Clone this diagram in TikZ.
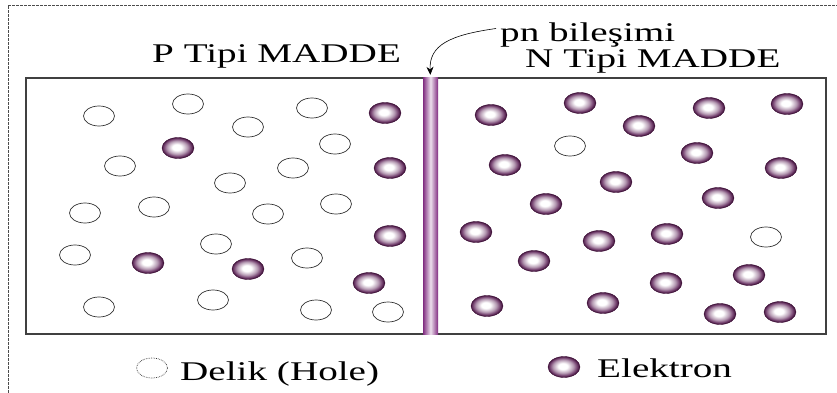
\documentclass[tikz,border=0pt]{standalone}
\usepackage{fontspec}
\setmainfont{Liberation Serif}[FakeStretch=1.45]
\usetikzlibrary{shapes.geometric,arrows.meta}

\definecolor{elecdark}{RGB}{62,16,56}
\definecolor{elecmid}{RGB}{120,70,115}
\definecolor{barpurple}{RGB}{128,44,128}
\pgfdeclareradialshading{electronshade}{\pgfpoint{-2bp}{2bp}}{%
  color(0bp)=(white); color(7bp)=(white); color(16bp)=(elecmid!55!white);
  color(21bp)=(elecmid); color(25bp)=(elecdark); color(50bp)=(elecdark)}

\tikzset{
  lbl/.style={font=\fontsize{27}{30}\selectfont, inner sep=0pt, anchor=base west},
  hole/.style={ellipse, draw=black!80, line width=0.7pt, fill=white,
    minimum width=31pt, minimum height=20pt, inner sep=0pt},
  elektron/.style={ellipse, shade, shading=electronshade, draw=elecdark,
    line width=0.4pt, minimum width=32pt, minimum height=21pt, inner sep=0pt}
}

\begin{document}
\begin{tikzpicture}[x=1pt, y=-1pt]
    \useasboundingbox (0,0) rectangle (837,393);

    % Frame (dashed, cut off)
    \draw[black!70, line width=0.6pt, dash pattern=on 3pt off 1pt] (8,393) -- (8,5) -- (837,5);

    % Box
    \draw[black!75, line width=1.3pt] (26,78) rectangle (826,334);

    % Junction
    \node[draw=none, minimum width=15pt, minimum height=256pt, inner sep=0pt,
          left color=barpurple, right color=barpurple, middle color=barpurple!15]
          (junc) at (430.5,206) {};

    % Titles
    \node[lbl] (ptitle) at (152,63) {P Tipi MADDE};
    \node[lbl] (ntitle) at (525,68) {N Tipi MADDE};
    \node[lbl] (pn) at (500,42) {pn bileşimi};
    \draw[-{Stealth[length=8pt,width=7pt]}, line width=0.6pt, shorten >=3pt]
        (pn.west) ++(-4,-7) .. controls (450,35) and (429,45) .. (junc.north);

    % Holes
    \foreach \x/\y [count=\i] in {99/116, 188/104, 248/127, 312/108, 335/144,
        120/166, 293/168, 230/183, 85/213, 154/207, 268/214, 336/204, 216/244,
        75/255, 307/258, 99/307, 213/300, 316/310, 388/312, 570/146, 766/237}
        \node[hole] (h\i) at (\x,\y) {};

    % Electrons
    \foreach \x/\y [count=\i] in {385/113, 178/148, 390/168, 390/236, 148/263,
        248/269, 369/283, 491/115, 580/103, 639/126, 709/108, 787/104, 697/153,
        505/165, 616/182, 781/168, 546/204, 718/198, 476/232, 599/241, 667/234,
        534/261, 666/283, 749/275, 487/306, 603/303, 720/314, 780/312}
        \node[elektron] (e\i) at (\x,\y) {};

    % Legend
    \node[hole, draw=black!80, densely dotted] (lhole) at (152,368) {};
    \node[lbl] (lholetxt) at (180,380) {Delik (Hole)};
    \node[elektron] (lelec) at (564,367) {};
    \node[lbl] (lelectxt) at (597,377) {Elektron};

\end{tikzpicture}
\end{document}
